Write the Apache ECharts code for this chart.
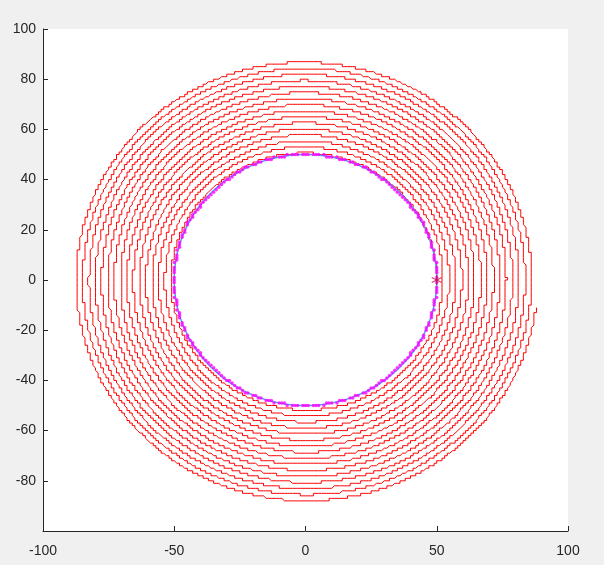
<!DOCTYPE html>
<html><head><meta charset="utf-8">
<script src="https://cdn.jsdelivr.net/npm/echarts@6/dist/echarts.min.js"></script>
<style>html,body{margin:0;padding:0;background:#f0f0f0;}#c{width:604px;height:565px;}</style>
</head><body><div id="c"></div>
<script>
// Values
var xTicks = [-100, -50, 0, 50, 100];
var yTicks = [-100, -80, -60, -40, -20, 0, 20, 40, 60, 80, 100];
var spiralStartPoint = [50, 0];      // red asterisk
var spiralStartRadius = [50];        // radius where the spiral begins
var spiralEndRadius = [88.5];        // radius where it ends (near (88,-10))
var spiralTurns = [15.98];           // counter-clockwise turns
var circleRadius = [50];             // blue circle
var gridStep = [1];                  // staircase resolution of the spiral

// Build the quantised spiral path
function buildSpiral() {
  var pts = [], r0 = spiralStartRadius[0], r1 = spiralEndRadius[0];
  var total = spiralTurns[0] * 2 * Math.PI, n = 30000, g = gridStep[0];
  var lx = null, ly = null;
  for (var i = 0; i <= n; i++) {
    var t = total * i / n;
    var r = r0 + (r1 - r0) * i / n;
    var x = Math.round(r * Math.cos(t) / g) * g;
    var y = Math.round(r * Math.sin(t) / g) * g;
    if (x !== lx || y !== ly) { pts.push([x, y]); lx = x; ly = y; }
  }
  return pts;
}
function buildCircle() {
  var pts = [];
  for (var a = 0; a <= 360; a += 1) {
    var t = a * Math.PI / 180;
    pts.push([circleRadius[0] * Math.cos(t), circleRadius[0] * Math.sin(t)]);
  }
  return pts;
}
function buildDots() {
  var pts = [];
  for (var a = 0; a < 360; a += 1.5) {
    var t = a * Math.PI / 180;
    pts.push([Math.round(circleRadius[0] * Math.cos(t)), Math.round(circleRadius[0] * Math.sin(t))]);
  }
  return pts;
}

var chart = echarts.init(document.getElementById('c'), null, {renderer: 'canvas'});
var axisCommon = {
  type: 'value',
  axisLine: {show: true, onZero: false, lineStyle: {color: '#262626', width: 1}},
  axisTick: {show: true, inside: true, length: 5, lineStyle: {color: '#262626'}},
  splitLine: {show: false},
  axisLabel: {color: '#262626', fontSize: 14, fontFamily: 'Liberation Sans, Arial, sans-serif'}
};
chart.setOption({
  animation: false,
  backgroundColor: '#f0f0f0',
  grid: {left: 43, top: 29, width: 525, height: 502, show: true, backgroundColor: '#ffffff', borderWidth: 0},
  xAxis: Object.assign({}, axisCommon, {
    min: xTicks[0], max: xTicks[xTicks.length - 1], interval: xTicks[1] - xTicks[0],
    axisLabel: Object.assign({}, axisCommon.axisLabel, {margin: 13})
  }),
  yAxis: Object.assign({}, axisCommon, {
    min: yTicks[0], max: yTicks[yTicks.length - 1], interval: yTicks[1] - yTicks[0],
    axisLabel: Object.assign({}, axisCommon.axisLabel, {margin: 7, showMinLabel: false})
  }),
  series: [
    {type: 'line', data: buildSpiral(), showSymbol: false, symbol: 'none',
     lineStyle: {color: '#ff0000', width: 1}, z: 2, silent: true},
    {type: 'line', data: buildCircle(), showSymbol: false, symbol: 'none',
     lineStyle: {color: '#4d9fff', width: 1.5}, z: 3, silent: true},
    {type: 'scatter', data: buildDots(), symbol: 'circle', symbolSize: 3.5,
     itemStyle: {color: '#ff00ff'}, z: 4, silent: true},
    {type: 'scatter', data: [spiralStartPoint], z: 5, silent: true,
     symbol: 'path://M5,0L5,10M0.67,2.5L9.33,7.5M0.67,7.5L9.33,2.5', symbolSize: 10,
     itemStyle: {color: 'none', borderColor: '#c0143c', borderWidth: 1.2}}
  ]
});
</script></body></html>
